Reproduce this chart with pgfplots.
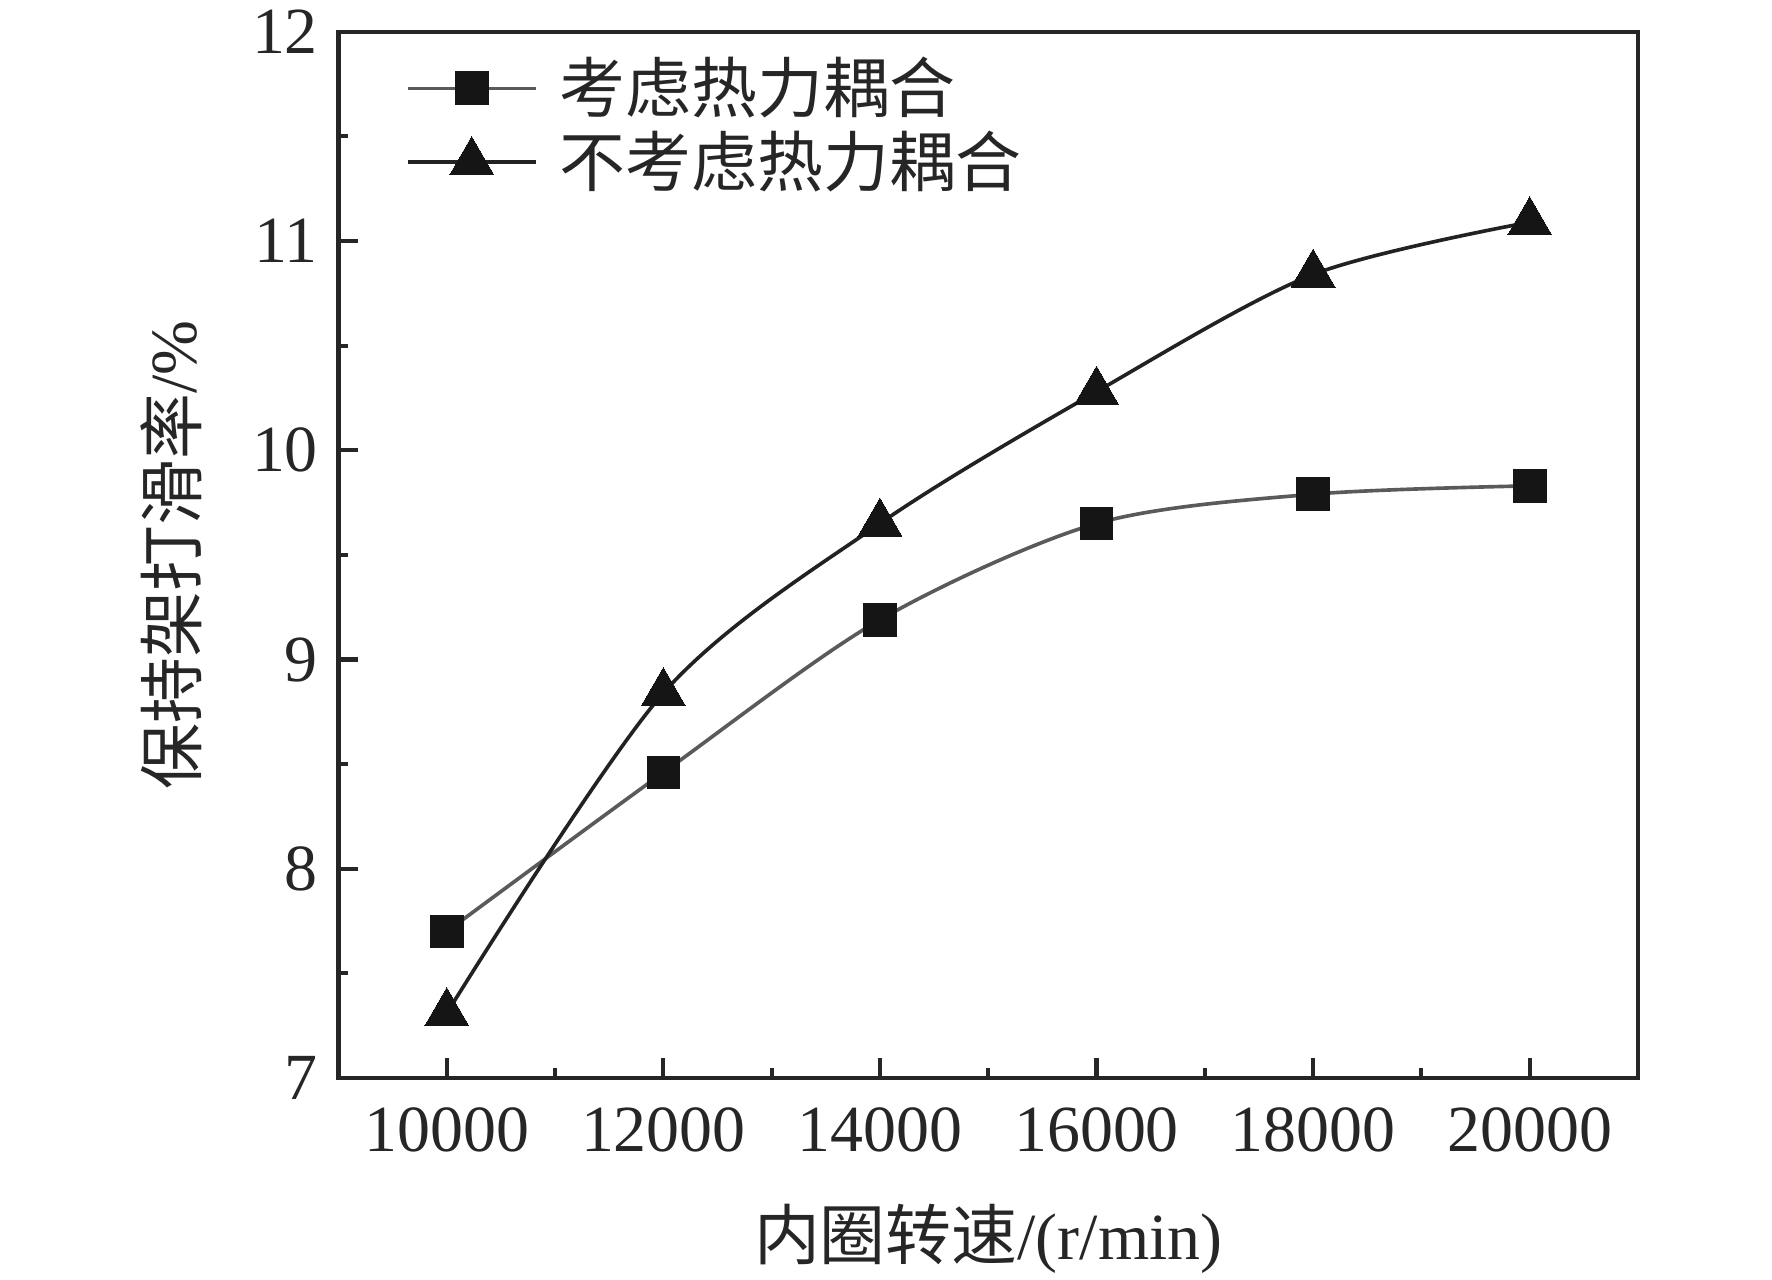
\documentclass[border=0pt]{standalone}
\usepackage{pgfplots}
\pgfplotsset{compat=1.18}
\usepackage{fontspec}
\setmainfont{Liberation Serif}
\newfontfamily\cjk{Noto Sans CJK SC}
\definecolor{lineA}{HTML}{5A5A5A}
\definecolor{lineB}{HTML}{222222}
\definecolor{mk}{HTML}{141514}
\begin{document}
\begin{tikzpicture}
\begin{axis}[
  scale only axis, width=286pt, height=230.25pt,
  xmin=9000, xmax=21000, ymin=7, ymax=12,
  xtick={10000,12000,14000,16000,18000,20000},
  ytick={7,8,9,10,11,12},
  minor x tick num=1, minor y tick num=1,
  tick align=inside, xtick pos=bottom, ytick pos=left,
  major tick length=4.4pt, minor tick length=2.2pt,
  every tick/.style={black!85, line width=0.9pt},
  axis line style={black!85, line width=1pt},
  scaled x ticks=false,
  /pgf/number format/assume math mode=true,
  /pgf/number format/1000 sep={},
  tick label style={font=\fontsize{14.5}{16}\selectfont, black!85},
  xticklabel style={yshift=-3pt},
  yticklabel style={xshift=-1pt},
  xlabel={{\cjk 内圈转速}/(r/min)},
  ylabel={{\cjk 保持架打滑率}/\%},
  label style={font=\fontsize{14.5}{16}\selectfont, black!85},
  xlabel style={at={(axis description cs:0.5,-0.1535)}, anchor=center},
  ylabel style={at={(axis description cs:-0.1287,0.5)}, anchor=center},
  legend style={at={(axis description cs:0.041,0.994)}, anchor=north west, draw=none, fill=none,
    font=\cjk\fontsize{14.5}{16}\selectfont, text=black!85, row sep=-1.5pt,
    nodes={inner xsep=5pt}},
  legend cell align=left,
  legend image code/.code={\draw[mark repeat=2,mark phase=2] plot coordinates {(0pt,0pt)(14pt,0pt)(28pt,0pt)};},
]
\addplot[lineA, line width=0.8pt, smooth, mark=square*, mark size=3.6pt,
  mark options={fill=mk, draw=mk, line width=0pt}]
  coordinates {(10000,7.70) (12000,8.46) (14000,9.19) (16000,9.65) (18000,9.79) (20000,9.83)};
\addlegendentry{考虑热力耦合}
\addplot[lineB, line width=0.8pt, smooth, mark=triangle*, mark size=5.6pt,
  mark options={fill=mk, draw=mk, line width=0pt}]
  coordinates {(10000,7.31) (12000,8.84) (14000,9.65) (16000,10.28) (18000,10.84) (20000,11.09)};
\addlegendentry{不考虑热力耦合}
\end{axis}
\pgfresetboundingbox
\path (current axis.south west) ++(-74.5pt,-44.25pt) rectangle ++(390pt,281.5pt);
\end{tikzpicture}
\end{document}
